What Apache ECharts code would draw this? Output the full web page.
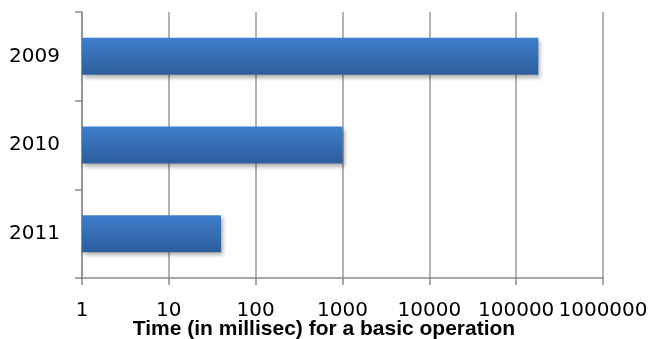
<!DOCTYPE html>
<html>
<head>
<meta charset="utf-8">
<script src="https://cdn.jsdelivr.net/npm/echarts@6/dist/echarts.min.js"></script>
<style>
html,body{margin:0;padding:0;background:#fff;}
#chart{width:648px;height:339px;}
</style>
</head>
<body>
<div id="chart"></div>
<script>
// 数据
var years = ['2009', '2010', '2011'];
var times = [180000, 1000, 40];
var xTicks = ['1', '10', '100', '1000', '10000', '100000', '1000000'];
var axisTitle = 'Time (in millisec) for a basic operation';

var chart = echarts.init(document.getElementById('chart'));
var option = {
    animation: false,
    title: {
        text: axisTitle,
        left: 'center',
        top: 314,
        textStyle: {
            fontFamily: 'Liberation Sans',
            fontWeight: 'bold',
            fontSize: 21,
            color: '#000'
        }
    },
    grid: {
        left: 82,
        right: 45,
        top: 12,
        bottom: 61,
        containLabel: false,
        outerBoundsMode: 'none'
    },
    xAxis: {
        type: 'log',
        logBase: 10,
        min: 1,
        max: 1000000,
        axisLine: { show: true, lineStyle: { color: '#8a8a8a', width: 1.5 } },
        axisTick: { show: true, length: 7, lineStyle: { color: '#8a8a8a', width: 1.5 } },
        splitLine: { show: true, lineStyle: { color: '#9a9a9a', width: 1.5 } },
        axisLabel: {
            margin: 23,
            fontFamily: 'DejaVu Sans',
            fontSize: 20,
            color: '#000',
            showMinLabel: true,
            showMaxLabel: true,
            hideOverlap: false,
            formatter: function (v) {
                var i = Math.round(Math.log10(v));
                return xTicks[i] || '';
            }
        }
    },
    yAxis: {
        type: 'category',
        data: years,
        inverse: true,
        axisLine: { show: true, lineStyle: { color: '#8a8a8a', width: 1.5 } },
        axisTick: { show: true, length: 7, lineStyle: { color: '#8a8a8a', width: 1.5 } },
        axisLabel: {
            margin: 22,
            fontFamily: 'DejaVu Sans',
            fontSize: 20,
            color: '#000'
        }
    },
    series: [{
        type: 'bar',
        data: times,
        barWidth: 37,
        itemStyle: {
            color: new echarts.graphic.LinearGradient(0, 0, 0, 1, [
                { offset: 0, color: '#3d7fcd' },
                { offset: 1, color: '#2d5d9b' }
            ]),
            shadowColor: 'rgba(0,0,0,0.3)',
            shadowBlur: 4,
            shadowOffsetX: 2,
            shadowOffsetY: 3
        }
    }]
};
chart.setOption(option);
</script>
</body>
</html>
